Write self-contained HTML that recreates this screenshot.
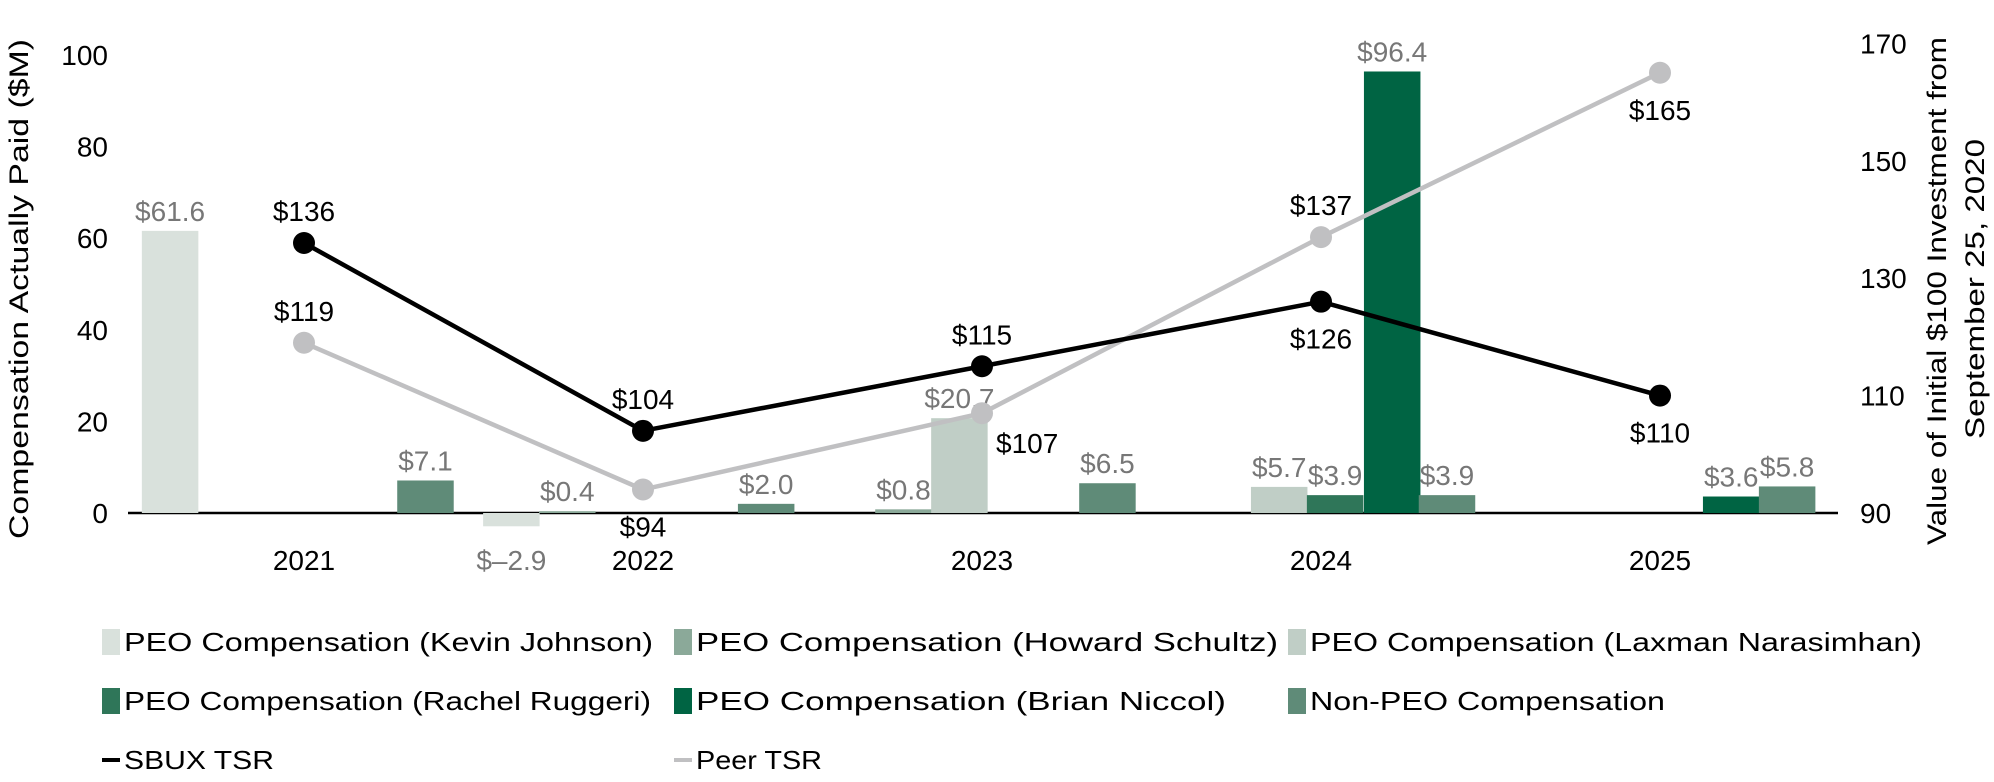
<!DOCTYPE html>
<html><head><meta charset="utf-8">
<style>
html,body{margin:0;padding:0;background:#fff;}
svg{display:block;font-family:"Liberation Sans",sans-serif;}
</style></head>
<body>
<svg id="chart" width="1994" height="782" viewBox="0 0 1994 782" xmlns="http://www.w3.org/2000/svg">
<g id="axes"></g>
<g id="bars"></g>
<g id="lines"></g>
<g id="legend"></g>
</svg>
<script>
const years = ["2021","2022","2023","2024","2025"];
const seriesNames = ["PEO Compensation (Kevin Johnson)","PEO Compensation (Howard Schultz)","PEO Compensation (Laxman Narasimhan)","PEO Compensation (Rachel Ruggeri)","PEO Compensation (Brian Niccol)","Non-PEO Compensation"];
const seriesColors = ["#d9e1dc","#8ba999","#c0cec6","#2f7659","#006443","#5f8b78"];
// bars: year index, series index, value ($M)
const barYear   = [0,0, 1,1,1, 2,2,2, 3,3,3,3, 4,4];
const barSeries = [0,5, 0,1,5, 1,2,5, 2,3,4,5, 4,5];
const barValues = [61.6,7.1, -2.9,0.4,2.0, 0.8,20.7,6.5, 5.7,3.9,96.4,3.9, 3.6,5.8];
// slot offset in bar widths from category center
const barSlot   = [-2.87,1.65, -2.83,-1.84,1.68, -1.89,-0.9,1.72, -1.24,-0.25,0.76,1.73, 0.76,1.75];
const sbuxTSR = [136,104,115,126,110];
const peerTSR = [119,94,107,137,165];
const sbuxLabelPos = ["above","above","above","below","below"];
const peerLabelPos = ["above","below","right","above","below"];
const leftTicks = [0,20,40,60,80,100];
const rightTicks = [90,110,130,150,170];

const NS="http://www.w3.org/2000/svg";
function mk(tag,attrs,parent,text){const e=document.createElementNS(NS,tag);for(const k in attrs)e.setAttribute(k,attrs[k]);if(text!==undefined)e.textContent=text;parent.appendChild(e);return e;}
const yL=v=>513-v*4.58;
const yR=v=>513-(v-90)*5.87;
const cx=i=>304+339*i;
const BW=56.5;

const axes=document.getElementById('axes');
leftTicks.forEach(t=>{
  const e=mk('text',{x:108,y:yL(t)+10,'text-anchor':'end','font-size':28,fill:'#000'},axes,String(t));
  
  
});
rightTicks.forEach(t=>{
  const e=mk('text',{x:1860,y:yR(t)+10,'text-anchor':'start','font-size':28,fill:'#000'},axes,String(t));
  
  
});
years.forEach((y,i)=>{
  const e=mk('text',{x:cx(i),y:570,'text-anchor':'middle','font-size':28,fill:'#000'},axes,y);
  
  
});
let t=mk('text',{x:0,y:0,'text-anchor':'middle','font-size':27,fill:'#000',transform:'translate(28,289) rotate(-90)',textLength:500,lengthAdjust:'spacingAndGlyphs'},axes,'Compensation Actually Paid ($M)');


t=mk('text',{x:0,y:0,'text-anchor':'middle','font-size':27,fill:'#000',transform:'translate(1946,291) rotate(-90)',textLength:508,lengthAdjust:'spacingAndGlyphs'},axes,'Value of Initial $100 Investment from');


t=mk('text',{x:0,y:0,'text-anchor':'middle','font-size':27,fill:'#000',transform:'translate(1984,289) rotate(-90)',textLength:300,lengthAdjust:'spacingAndGlyphs'},axes,'September 25, 2020');



const bars=document.getElementById('bars');
barValues.forEach((v,k)=>{
  const x=cx(barYear[k])+barSlot[k]*BW;
  const y0=yL(0), y1=yL(v);
  const r=mk('rect',{x:x,y:Math.min(y0,y1),width:BW,height:Math.abs(y1-y0),fill:seriesColors[barSeries[k]]},bars);
  
  
  const ly = v>=0 ? y1-10 : y0+57;
  const l=mk('text',{x:x+BW/2,y:ly,'text-anchor':'middle','font-size':28,fill:'#777'},bars,'$'+v.toFixed(1).replace('-','\u2013'));
  
  
});
const base=mk('line',{x1:128,x2:1838,y1:513,y2:513,stroke:'#000','stroke-width':2.5},axes);



const lines=document.getElementById('lines');
function drawLine(vals,color,pos,name){
  const pts=vals.map((v,i)=>cx(i)+','+yR(v)).join(' ');
  const pl=mk('polyline',{points:pts,fill:'none',stroke:color,'stroke-width':4.5},lines);
  
  
  vals.forEach((v,i)=>{
    const c=mk('circle',{cx:cx(i),cy:yR(v),r:11,fill:color},lines);
    
    
    let lx=cx(i),ly=yR(v)-22,anc='middle';
    if(pos[i]==='below'){ly=yR(v)+47;}
    if(pos[i]==='right'){lx=cx(i)+14;ly=yR(v)+40;anc='start';}
    const tl=mk('text',{x:lx,y:ly,'text-anchor':anc,'font-size':28,fill:'#000'},lines,'$'+v);
    
    
  });
}
drawLine(peerTSR,'#c0c0c2',peerLabelPos,'peer-tsr');
drawLine(sbuxTSR,'#000',sbuxLabelPos,'sbux-tsr');

const legend=document.getElementById('legend');
const legX=[102,674,1288], legY=[642,701,760];
const textW=[529,582,612,527,530,355];
seriesNames.forEach((n,i)=>{
  const col=i%3,row=Math.floor(i/3);
  const s=mk('rect',{x:legX[col],y:legY[row]-13,width:18,height:26,fill:seriesColors[i]},legend);
  
  
  const tx=mk('text',{x:legX[col]+22,y:legY[row]+9,'font-size':26,fill:'#000',textLength:textW[i],lengthAdjust:'spacingAndGlyphs'},legend,n);
  
  
});
[['SBUX TSR','#000',0,150],['Peer TSR','#c0c0c2',1,126]].forEach(d=>{
  const ln=mk('rect',{x:legX[d[2]],y:legY[2]-2,width:18,height:4,fill:d[1]},legend);
  
  
  const tx=mk('text',{x:legX[d[2]]+22,y:legY[2]+9,'font-size':26,fill:'#000',textLength:d[3],lengthAdjust:'spacingAndGlyphs'},legend,d[0]);
  
  
});
</script>
</body></html>
